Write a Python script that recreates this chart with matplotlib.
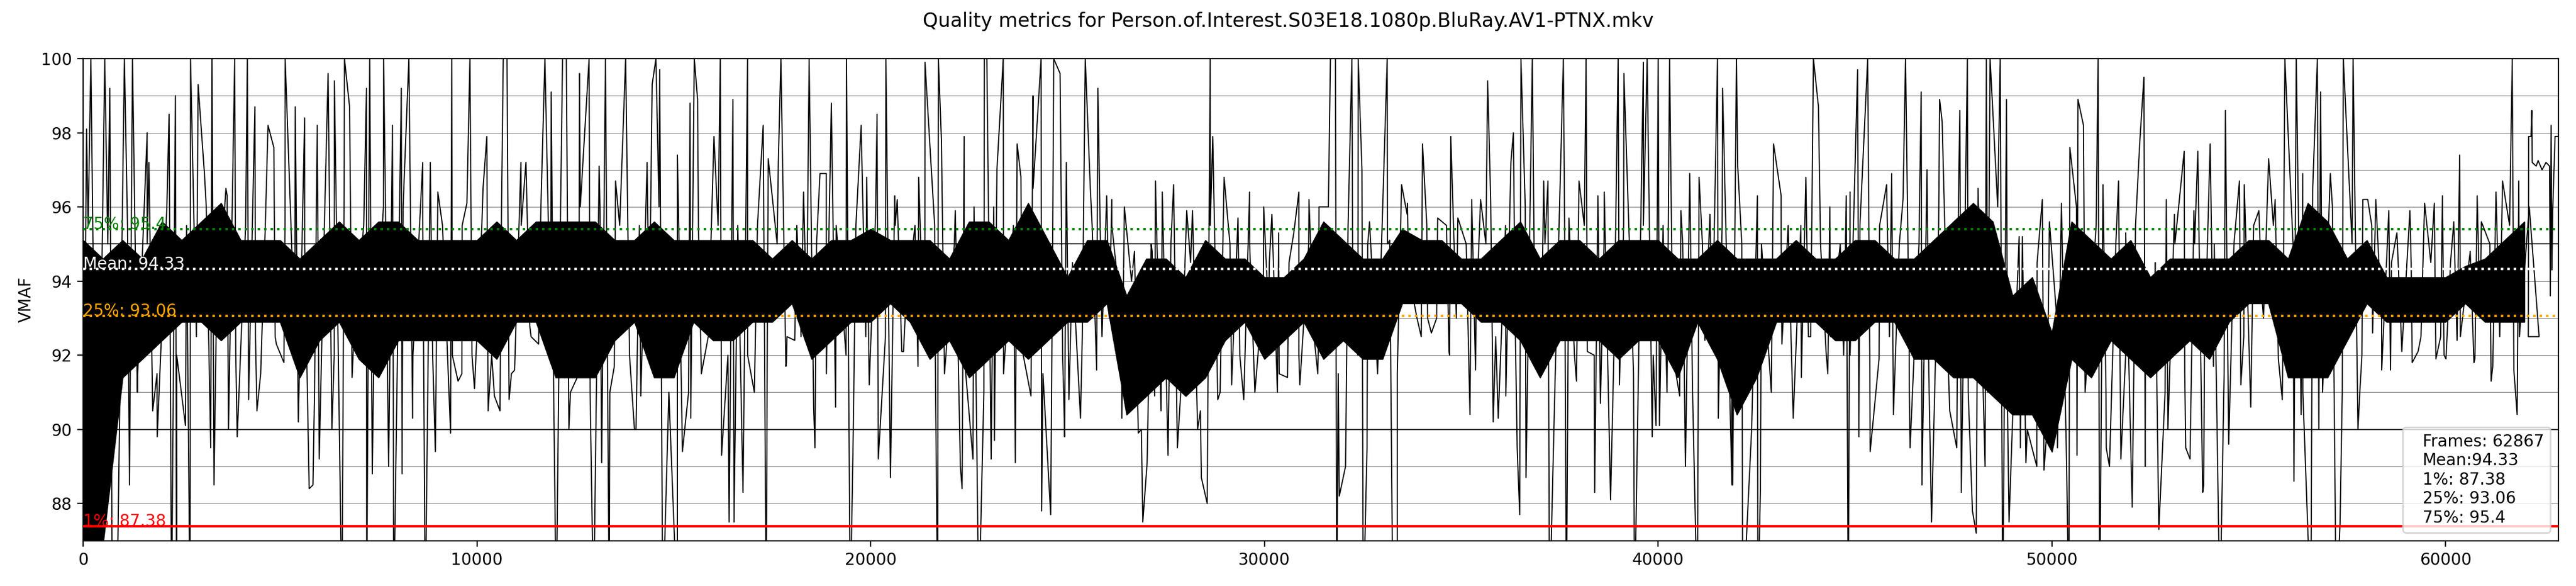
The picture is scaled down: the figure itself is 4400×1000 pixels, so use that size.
import numpy as np
import matplotlib
matplotlib.use("Agg")
import matplotlib.pyplot as plt

# Summary values for the encode
title = "Quality metrics for Person.of.Interest.S03E18.1080p.BluRay.AV1-PTNX.mkv"
frames = 62867
mean = 94.33
perc_1 = 87.38
perc_25 = 93.06
perc_75 = 95.4

# Dense core of the VMAF trace, one pair per 500 frames
bucket = 500
core_lo = [86.5, 86.5, 91, 91.5, 92, 92.5, 92.5, 92, 92.5, 92.5, 92.5, 91, 92, 92.5, 91.5, 91, 92, 92, 92, 92,
           92, 91.5, 92.5, 92.5, 91, 91, 91, 92, 92.5, 91, 91, 92.5, 92, 92, 92.5, 92.5, 93, 91.5, 92, 92.5,
           92.5, 93, 92.5, 91.5, 92, 91, 91.5, 92, 91.5, 92, 92.5, 92.5, 93, 90, 90.5, 91, 90.5, 91, 92, 92.5,
           91.5, 92, 92.5, 91.5, 92, 91.5, 91.5, 93, 93, 93, 93, 92.5, 92.5, 92, 91, 92, 92, 92, 91.5, 92,
           92, 91, 92.5, 91.5, 90, 91, 92.5, 92.5, 92.5, 92, 92, 92.5, 92.5, 91.5, 91.5, 91, 91, 90.5, 90, 90,
           89, 91.5, 91, 92, 91.5, 91, 91.5, 92, 91.5, 92.5, 93, 93, 91, 91, 91, 92, 93, 92.5, 92.5, 92.5,
           92.5, 93, 92.5, 92.5, 92.5]
core_hi = [95.5, 95, 95.5, 95, 96, 95.5, 96, 96.5, 95.5, 95.5, 95.5, 95, 95.5, 96, 95.5, 96, 96, 95.5, 95.5, 95.5,
           95.5, 96, 95.5, 96, 96, 96, 96, 95.5, 95.5, 96, 95.5, 95.5, 95.5, 95.5, 95.5, 95, 95.5, 95, 95.5, 95.5,
           95.8, 95.5, 95.5, 95.5, 95, 96, 96, 95.5, 96.5, 95.5, 94.5, 95.5, 95.5, 94, 95, 95, 94.5, 95.5, 95, 95,
           94.5, 94.5, 95, 96, 95.5, 95, 95, 95.8, 95.5, 95.5, 95, 95, 95.5, 96, 95, 95.5, 95.5, 95, 95.5, 95.5,
           95.5, 95, 95, 95.5, 95, 95, 95, 95.5, 95, 95, 95.5, 95.5, 95, 95, 95.5, 96, 96.5, 96, 94, 94.5,
           93, 96, 95.5, 95, 95.5, 94.5, 95, 95, 95, 95, 95.5, 95.5, 95, 96.5, 96, 95, 95.5, 94.5, 94.5, 94.5,
           94.5, 94.8, 95, 95.5, 96]

# Highest peak of each 500-frame stretch
peak_frame = [195, 547, 1252, 1624, 2342, 2726, 3271, 3848, 4169, 4694, 5130, 5624, 6220, 6636, 7194, 7630, 8271, 8624, 9360, 9822,
              10251, 10668, 11117, 11726, 12271, 12848, 13264, 13777, 14450, 14546, 15412, 15520, 16181, 16873, 17270, 17720, 18437, 18713, 19386, 19758,
              20387, 20611, 21380, 21720, 22374, 22887, 23367, 23720, 24329, 24649, 25450, 25771, 25995, 26444, 27233, 27694, 28027, 28624, 28976, 29623,
              30190, 30875, 31132, 31677, 32222, 32478, 33119, 33484, 34016, 34734, 35266, 35670, 36324, 36805, 37202, 37593, 38170, 38632, 38984, 39721,
              40291, 40803, 41040, 41508, 41989, 42931, 43124, 43944, 44072, 44874, 45322, 45931, 46284, 46681, 47213, 47854, 48431, 48688, 49252, 49758,
              50242, 50663, 51174, 51694, 52338, 52907, 53361, 53707, 54408, 54887, 55506, 55918, 56207, 56743, 57403, 57651, 58022, 58558, 59094, 59919,
              60357, 60802, 61280, 61693]
peak_vmaf = [100, 100, 100, 98.0, 99.0, 100, 100, 100, 100, 98.2, 100, 98.4, 99.6, 100, 99.2, 100, 100, 97.2, 100, 100,
             97.9, 100, 97.2, 100, 100, 100, 100, 100, 99.3, 100, 98.8, 100, 100, 100, 98.2, 100, 100, 96.9, 100, 98.2,
             100, 96.3, 99.9, 100, 97.9, 100, 100, 97.7, 100, 100, 100, 99.2, 96.3, 96.0, 96.7, 96.6, 95.9, 100, 96.8, 96.4,
             95.8, 96.4, 96.2, 100, 100, 97.0, 100, 96.6, 97.7, 97.9, 96.2, 99.4, 98.0, 100, 96.7, 100, 100, 96.4, 100, 100,
             100, 96.9, 96.8, 100, 100, 97.7, 96.3, 100, 98.7, 96.4, 100, 96.9, 100, 99.1, 98.3, 100, 100, 100, 95.2, 96.2,
             96.1, 98.9, 100, 96.7, 99.5, 96.2, 97.5, 97.5, 98.6, 96.6, 97.3, 100, 100, 100, 100, 100, 96.2, 95.9, 95.9, 96.3,
             97.4, 96.3, 96.4, 100]

# Second peak of each stretch
peak2_frame = [85, 675, 1047, 1669, 2181, 2919, 3079, 3656, 4361, 4842, 5386, 5944, 6380, 6765, 7277, 7854, 8079, 8816, 9008, 9745,
               10155, 10764, 11245, 11886, 12174, 12604, 13104, 13521, 14322, 14642, 15091, 15604, 16020, 16501, 17399, 17655, 18296, 18873, 19001, 19899,
               20162, 20675, 21220, 21797, 22149, 22951, 23207, 23816, 24124, 24810, 24970, 25579, 26124, 26701, 27149, 27406, 28175, 28688, 29329, 29982,
               30363, 30747, 31388, 31805, 32382, 32670, 33183, 33632, 34401, 34914, 35491, 35747, 36260, 36516, 37093, 37734, 37990, 38471, 39131, 39625,
               40002, 40579, 41316, 41637, 42021, 42521, 43303, 43752, 44361, 44778, 45066, 45803, 46220, 46829, 47149, 47662, 48335, 48848, 49168, 49938,
               50457, 50803, 51298, 51876, 52230, 52618, 53113, 53608, 54021, 54763, 55258, 55671, 56372, 56826, 57073, 57898, 58228, 58764, 59466, 59713,
               60208, 60909, 61446, 61858]
peak2_vmaf = [98.1, 99.2, 100, 97.2, 98.5, 99.3, 96.9, 96.3, 98.7, 97.6, 98.7, 98.2, 99.4, 98.7, 100, 98.2, 99.2, 97.2, 96.4, 96.1,
              96.5, 100, 97.2, 99.1, 100, 99.6, 97.1, 96.7, 97.2, 99.7, 97.4, 98.9, 97.9, 98.9, 97.3, 97.2, 96.4, 96.9, 98.8, 96.8,
              98.5, 96.2, 96.8, 97.8, 95.9, 100, 97.0, 96.8, 99.0, 99.6, 97.2, 96.5, 96.2, 94.8, 94.8, 96.4, 95.9, 97.9, 95.7, 96.0,
              95.3, 95.3, 96.0, 100, 100, 95.6, 95.1, 96.1, 95.7, 95.7, 96.2, 96.2, 97.2, 100, 96.7, 95.7, 96.7, 96.3, 99.6, 99.9,
              100, 95.9, 95.8, 99.2, 97.1, 96.3, 95.5, 96.8, 96.0, 96.3, 99.7, 96.6, 96.2, 97.0, 98.9, 98.6, 100, 98.9, 95.2, 95.6,
              97.6, 98.2, 96.6, 95.3, 97.7, 94.1, 95.8, 95.9, 97.7, 96.7, 95.9, 96.2, 96.9, 99.1, 96.9, 96.2, 96.2, 95.3, 96.1, 96.1,
              95.6, 95.6, 96.7, 96.7]

# Deepest dip of each stretch (85 = below the visible range)
dip_frame = [355, 740, 1175, 1880, 2245, 2713, 3322, 3912, 4412, 4508, 5463, 5739, 5995, 6572, 7200, 7886, 8098, 8688, 9330, 9938,
             10284, 10585, 10957, 11950, 12014, 12963, 13360, 14001, 14162, 14719, 15091, 15431, 16405, 16758, 17347, 17860, 18072, 18584, 19482, 19963,
             20502, 20835, 21201, 21701, 22322, 22746, 23060, 23675, 24342, 24572, 24925, 25329, 26380, 26912, 27021, 27553, 28399, 28547, 29476, 29758,
             30330, 30900, 31356, 31837, 32061, 32510, 33375, 33984, 34241, 34702, 35221, 35811, 36420, 36484, 37241, 37670, 38388, 38792, 39401, 39850,
             40226, 40694, 40996, 41874, 42149, 42534, 43431, 43637, 44310, 44829, 45386, 45976, 46399, 46944, 47585, 47983, 48079, 48752, 49341, 49800,
             50432, 50638, 51215, 51463, 52041, 52717, 53509, 53831, 54268, 54491, 55052, 55852, 56149, 56578, 57222, 57774, 58377, 58600, 59152, 59754,
             60010, 60720, 61156, 61817]
dip_vmaf = [85, 85, 88.5, 89.8, 85, 85, 88.5, 89.8, 90.5, 91.5, 90.2, 88.4, 89.2, 85, 85, 85, 88.8, 85, 89.9, 91.1,
            90.5, 90.5, 91.6, 90.9, 85, 85, 85, 90.0, 90.9, 85, 85, 90.3, 87.5, 88.3, 85, 91.8, 92.4, 89.5, 85, 91.2,
            88.7, 92.1, 91.7, 85, 88.4, 85, 89.2, 89.1, 87.8, 87.7, 89.8, 90.3, 90.3, 87.5, 89.1, 89.3, 88.7, 88.0, 90.8, 91.0,
            91.0, 91.2, 91.5, 85, 89.0, 85, 85, 92.5, 92.6, 92.0, 90.4, 90.2, 89.5, 87.7, 85, 85, 88.3, 88.1, 85, 89.8,
            91.0, 89.0, 85, 88.5, 85, 85, 90.3, 91.4, 91.5, 85, 89.4, 90.4, 89.5, 87.5, 89.5, 87.8, 87.2, 85, 89.1, 88.9,
            85, 89.3, 85, 89.0, 87.9, 87.3, 89.2, 88.3, 85, 89.6, 90.6, 90.8, 88.6, 85, 85, 90.0, 91.6, 91.6, 91.8, 91.9,
            91.9, 91.8, 91.3, 90.4]

# Second dip of each stretch
dip2_frame = [21, 932, 1380, 1765, 2374, 2598, 3239, 3690, 4201, 4906, 5098, 5835, 6316, 6829, 7342, 7758, 8367, 8944, 9521, 9617,
              10444, 10816, 11341, 11566, 12335, 12591, 13168, 13489, 14040, 14899, 15219, 15700, 16213, 16530, 17046, 17847, 18232, 18552, 19110, 19559,
              20194, 20790, 21348, 21637, 22278, 22598, 23143, 23850, 24072, 24906, 25034, 25739, 26060, 26797, 27213, 27790, 28303, 28816, 29168, 29970,
              30106, 30587, 31260, 31901, 32250, 32606, 33247, 33664, 34145, 34689, 35362, 35939, 36132, 36644, 37029, 37926, 38202, 38535, 39016, 39946,
              40034, 40547, 41188, 41528, 41893, 42598, 43143, 43816, 44265, 44713, 45098, 45611, 46380, 46701, 47406, 47700, 48303, 48912, 49200, 49617,
              50143, 50844, 51381, 51752, 52371, 52948, 53400, 53856, 54103, 54800, 55341, 55753, 56331, 56780, 57320, 57816, 58146, 58888, 59301, 59961,
              60291, 60744, 61198, 61734]
dip2_vmaf = [89.6, 90.9, 91.4, 90.5, 85, 90.1, 89.5, 90.0, 90.8, 92.3, 91.8, 88.5, 90.0, 91.4, 88.8, 89.0, 90.3, 89.4, 91.3, 91.5,
             90.9, 90.8, 92.8, 92.3, 90.0, 91.5, 89.1, 91.7, 90.0, 90.3, 89.4, 91.5, 89.3, 87.5, 91.0, 91.7, 92.5, 90.6, 90.6, 90.0,
             89.2, 92.1, 92.4, 92.5, 89.0, 89.2, 89.7, 92.2, 90.9, 90.8, 90.8, 91.6, 93.0, 89.9, 90.9, 89.5, 90.0, 90.8, 91.2, 93.4,
             93.1, 91.4, 92.5, 88.2, 92.5, 89.5, 87.0, 94.2, 93.0, 92.1, 91.6, 90.3, 90.9, 88.7, 91.8, 91.3, 92.1, 90.7, 91.2, 90.1,
             90.1, 90.9, 92.4, 90.3, 88.5, 88.4, 92.3, 92.5, 92.1, 92.0, 89.8, 91.9, 91.0, 88.5, 90.5, 88.3, 89.0, 87.5, 89.5, 89.0,
             89.5, 91.0, 89.5, 89.2, 89.0, 90.0, 89.5, 88.5, 91.7, 91.2, 93.5, 91.9, 90.4, 90.0, 87.5, 90.9, 92.6, 92.1, 92.1, 92.0,
             92.4, 91.9, 91.7, 91.6]

# Last frames: flat high plateau
tail_frame = [62100, 62110, 62170, 62190, 62200, 62300, 62350, 62450, 62550, 62640, 62660, 62680, 62700, 62720, 62780, 62867]
tail_vmaf = [92.5, 97.9, 97.9, 98.6, 97.2, 97.1, 97.25, 97.0, 97.2, 97.1, 93.6, 98.2, 94.3, 95.9, 97.9, 97.9]

# Build the trace: core edges, peaks and dips in frame order, then the tail
core_x = np.arange(len(core_lo)) * bucket
all_x = np.concatenate([peak_frame, dip_frame, peak2_frame, dip2_frame,
                        core_x + bucket / 4, core_x + 3 * bucket / 4])
all_y = np.concatenate([peak_vmaf, dip_vmaf, peak2_vmaf, dip2_vmaf, core_hi, core_lo])
order = np.argsort(all_x, kind="stable")
trace_x = np.concatenate([all_x[order], tail_frame])
trace_y = np.concatenate([all_y[order], tail_vmaf])

# solid part of the band sits a little inside the core edges, the trace draws the ragged rim
solid_lo = np.array(core_lo) + 0.4
solid_hi = np.array(core_hi) - 0.4

fig = plt.figure(figsize=(22, 5), dpi=200)
ax = fig.add_subplot(111)
fig.subplots_adjust(left=0.0323, right=0.9932, bottom=0.0775, top=0.90)

# horizontal guide lines
for i in range(0, 101):
    ax.axhline(i, color="grey", linewidth=0.4, zorder=1)
    if i % 5 == 0:
        ax.axhline(i, color="black", linewidth=0.6, zorder=1)

# the VMAF trace
ax.fill_between(core_x, solid_lo, solid_hi, color="black", linewidth=0.7, zorder=2)
ax.plot(trace_x, trace_y, color="black", linewidth=0.7, zorder=2,
        label=f"Frames: {frames}\nMean:{mean}\n"
              f"1%: {perc_1} \n25%: {perc_25} \n75%: {perc_75}")

# percentile lines
ax.plot([1, frames], [perc_1, perc_1], "-", color="red", zorder=3)
ax.annotate(f"1%: {perc_1}", xy=(0, perc_1), color="red", zorder=3)
ax.plot([1, frames], [perc_25, perc_25], ":", color="orange", zorder=3)
ax.annotate(f"25%: {perc_25}", xy=(0, perc_25), color="orange", zorder=3)
ax.plot([1, frames], [perc_75, perc_75], ":", color="green", zorder=3)
ax.annotate(f"75%: {perc_75}", xy=(0, perc_75), color="green", zorder=3)
ax.plot([1, frames], [mean, mean], ":", color="white", zorder=3)
ax.annotate(f"Mean: {mean}", xy=(0, mean), color="white", zorder=3)

ax.set_ylabel("VMAF")
ax.legend(loc="lower right", markerscale=0, handlelength=0, fancybox=True)
ax.set_ylim(int(perc_1), 100)
ax.set_xlim(0, frames)
fig.suptitle(title)

fig.savefig("out.png", dpi=200)
